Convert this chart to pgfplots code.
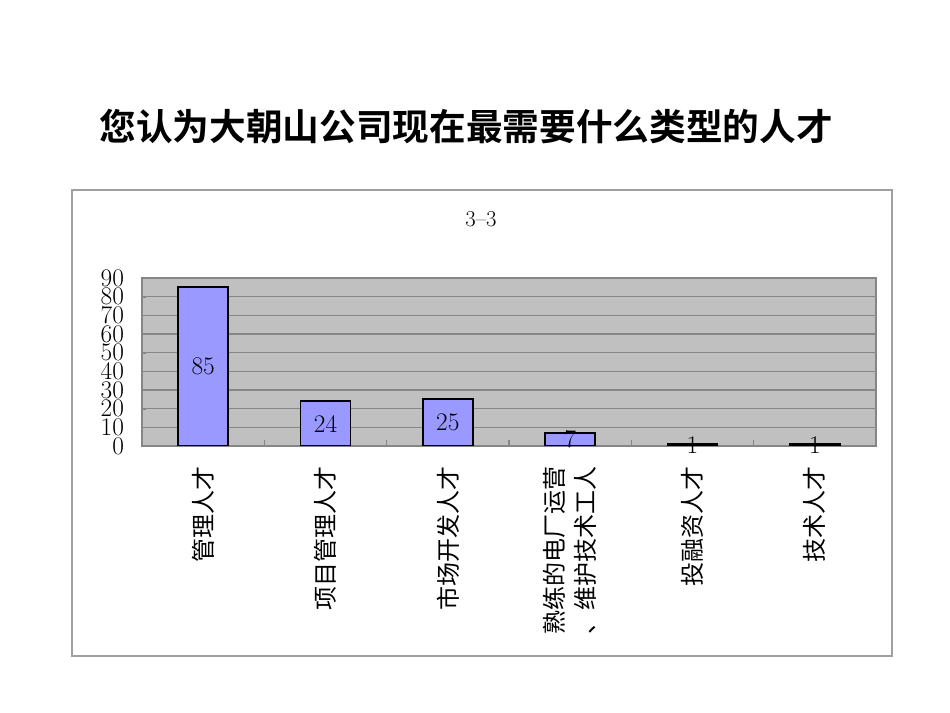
\documentclass[border=0pt]{standalone}
\usepackage{fontspec}
\usepackage{pgfplots}
\pgfplotsset{compat=1.18}
\newfontfamily\cjk{Noto Sans CJK SC}
\newfontfamily\cjkbold{Noto Sans CJK SC Bold}
\definecolor{barblue}{HTML}{9999FF}
\definecolor{plotbg}{HTML}{C0C0C0}
\definecolor{gridgray}{HTML}{868686}
\definecolor{framegray}{HTML}{A0A0A0}
\begin{document}
\begin{tikzpicture}[x=0.75pt,y=0.75pt]
  \path[use as bounding box, fill=white] (0,0) rectangle (950,713);
  \draw[framegray, line width=1pt] (72,57) rectangle (892,523);
  \node[font=\cjkbold\fontsize{27.5}{30}\selectfont] at (466,586) {您认为大朝山公司现在最需要什么类型的人才};
  \node[font=\fontsize{17}{20}\selectfont] at (481,494) {3--3};
  \begin{axis}[
      at={(106.5pt,200.25pt)}, anchor=south west,
      scale only axis, width=550.5pt, height=126pt,
      xmin=-0.5, xmax=5.5, ymin=0, ymax=90,
      ytick={0,10,...,90},
      xtick={0,...,5},
      xticklabels={管理人才, 项目管理人才, 市场开发人才, {熟练的电厂运营\\、维护技术工人}, 投融资人才, 技术人才},
      extra x ticks={0.5,1.5,2.5,3.5,4.5},
      extra x tick labels={},
      extra x tick style={grid=none, major tick length=4.5pt, tick align=inside,
        major x tick style={draw=gridgray, line width=0.8pt}},
      xtick pos=bottom, ytick pos=left,
      tick align=inside,
      major x tick style={draw=none},
      ytick style={gridgray},
      major tick length=3pt,
      ymajorgrids, grid style={gridgray, line width=0.9pt},
      axis line style={gridgray, line width=1.2pt},
      axis background/.style={fill=plotbg},
      /pgf/number format/assume math mode=true,
      yticklabel style={font=\fontsize{19}{19}\selectfont, xshift=-10pt},
      xticklabel style={font=\cjk\fontsize{18}{23}\selectfont, rotate=90, anchor=east, align=right, inner sep=0pt},
      xticklabel shift=12pt,
      ybar, bar width=37.5pt,
      visualization depends on={rawy \as \rawy},
      nodes near coords,
      nodes near coords style={font=\fontsize{19}{19}\selectfont, anchor=center, shift={(axis direction cs:0,-\rawy/2)}},
    ]
    \addplot[fill=barblue, draw=black, line width=1.3pt] coordinates {
      (0,85) (1,24) (2,25) (3,7) (4,1) (5,1)
    };
  \end{axis}
\end{tikzpicture}
\end{document}
